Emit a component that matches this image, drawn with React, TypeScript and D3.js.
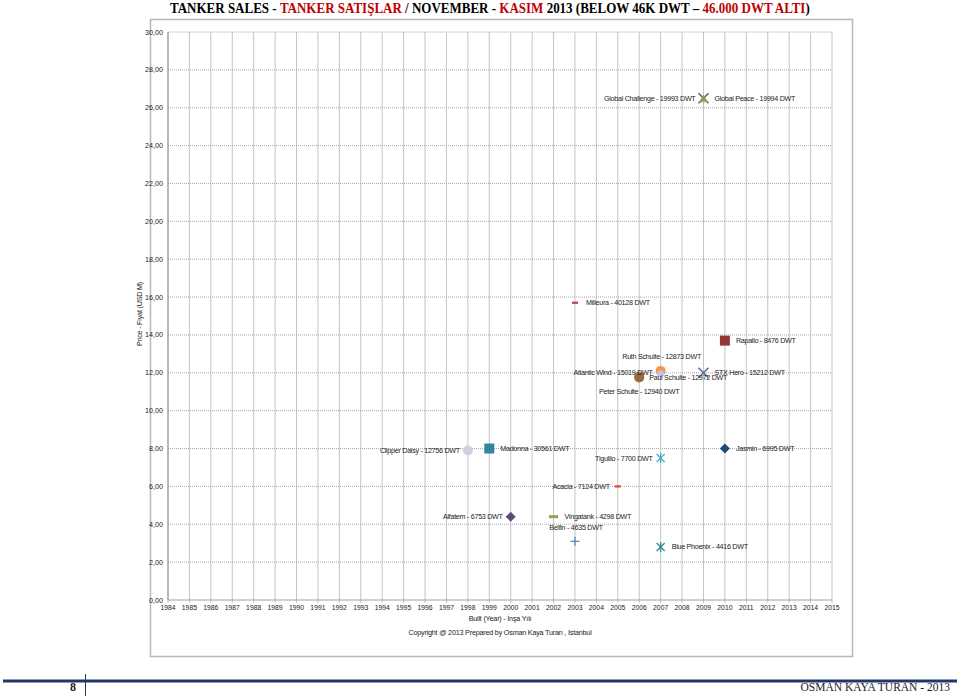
import React, { useLayoutEffect, useRef, useState } from "react";
import * as d3 from "d3";

const years = d3.range(1984, 2016);
const yTicks = [0, 2, 4, 6, 8, 10, 12, 14, 16, 18, 20, 22, 24, 26, 28, 30];

const shipNames = [
  "Global Challenge", "Global Peace", "Milleura", "Rapallo", "Ruth Schulte",
  "Atlantic Wind", "Paul Schulte", "Peter Schulte", "STX Hero", "Clipper Daisy",
  "Madonna", "Tigullio", "Jasmin", "Acacia", "Alfatem", "Vingatank", "Belfin", "Blue Phoenix",
];
const shipDwt = [
  19993, 19994, 40128, 8476, 12873, 15019, 12972, 12940, 15212, 12756,
  30561, 7700, 6995, 7124, 6753, 4298, 4635, 4416,
];
const builtYear = [
  2009, 2009, 2003, 2010, 2007, 2007, 2006, 2006, 2009, 1998,
  1999, 2007, 2010, 2005, 2000, 2002, 2003, 2007,
];
const priceUsdM = [
  26.5, 26.5, 15.7, 13.7, 12.1, 12.0, 11.8, 11.75, 12.0, 7.9,
  8.0, 7.5, 8.0, 6.0, 4.4, 4.4, 3.1, 2.8,
];
// label placement & marker style (presentation)
const labelPlace = [
  "left", "right", "right", "right", "above", "left", "rightlow", "below", "right", "left",
  "right", "left", "right", "left", "left", "right", "above", "right",
];
const markerKind = [
  "x", "triangle", "dash", "square", "circle", "circleSmall", "circle", "circle", "x", "circle",
  "square", "star", "diamond", "dash", "diamond", "dashWide", "plus", "star",
];
const markerColor = [
  "#5e5e40", "#9a9a60", "#c0504d", "#953735", "#f79646", "#b9c6e8", "#c08a50", "#9c6a3c", "#4f6a8c", "#d0d0dc",
  "#31859c", "#4bacc6", "#1f497d", "#e0503c", "#604a7b", "#8ea34a", "#4f81bd", "#31859c",
];

const titleParts = [
  { t: "TANKER SALES - ", red: false },
  { t: "TANKER SATIŞLAR", red: true },
  { t: " / NOVEMBER - ", red: false },
  { t: "KASIM", red: true },
  { t: " 2013 (BELOW 46K DWT – ", red: false },
  { t: "46.000 DWT ALTI", red: true },
  { t: ")", red: false },
];

const L = 168, R = 832, T = 32, B = 600;

function Marker({ kind, color, x, y }: { kind: string; color: string; x: number; y: number }) {
  switch (kind) {
    case "x":
      return (
        <g stroke={color} strokeWidth={1.4}>
          <line x1={x - 5} y1={y - 5} x2={x + 5} y2={y + 5} />
          <line x1={x - 5} y1={y + 5} x2={x + 5} y2={y - 5} />
        </g>
      );
    case "triangle":
      return <path d={`M${x},${y - 4}L${x + 4.5},${y + 4}L${x - 4.5},${y + 4}Z`} fill={color} opacity={0.85} />;
    case "dash":
      return <rect x={x - 3} y={y - 1.2} width={6} height={2.4} fill={color} />;
    case "dashWide":
      return <rect x={x - 4.5} y={y - 1.5} width={9} height={3} fill={color} />;
    case "square":
      return <rect x={x - 5} y={y - 5} width={10} height={10} fill={color} />;
    case "circle":
      return <circle cx={x} cy={y} r={5} fill={color} />;
    case "circleSmall":
      return <circle cx={x} cy={y + 1} r={3.5} fill={color} />;
    case "diamond":
      return <path d={`M${x},${y - 5}L${x + 5},${y}L${x},${y + 5}L${x - 5},${y}Z`} fill={color} />;
    case "plus":
      return (
        <g stroke={color} strokeWidth={1.2}>
          <line x1={x - 4.5} y1={y} x2={x + 4.5} y2={y} />
          <line x1={x} y1={y - 4.5} x2={x} y2={y + 4.5} />
        </g>
      );
    case "star":
      return (
        <g stroke={color} strokeWidth={1.3}>
          <line x1={x - 4} y1={y - 4} x2={x + 4} y2={y + 4} />
          <line x1={x - 4} y1={y + 4} x2={x + 4} y2={y - 4} />
          <line x1={x} y1={y - 5} x2={x} y2={y + 5} />
        </g>
      );
    default:
      return null;
  }
}

export default function App() {
  const x = d3.scaleLinear().domain([1984, 2015]).range([L, R]);
  const y = d3.scaleLinear().domain([0, 30]).range([B, T]);
  const sans = "Liberation Sans, Arial, sans-serif";
  const lblStyle = { fontFamily: sans, fontSize: 7.2, letterSpacing: -0.3, fill: "#222" } as const;

  const titleRef = useRef<SVGTextElement>(null);
  const [titleScale, setTitleScale] = useState(1);
  useLayoutEffect(() => {
    if (titleRef.current) {
      const w = titleRef.current.getComputedTextLength();
      if (w > 0) setTitleScale(640 / w);
    }
  }, []);

  const order = d3.range(shipNames.length);

  return (
    <svg
      width={960}
      height={696}
      style={{ position: "absolute", left: 0, top: 0, background: "#fff" }}
    >
      {/* title */}
      <g transform={`translate(170,13) scale(${titleScale},1)`}>
        <text
          ref={titleRef}
          x={0}
          y={0}
          style={{ fontFamily: "Liberation Serif, DejaVu Serif, serif", fontWeight: "bold", fontSize: 15.5 }}
        >
          {titleParts.map((p, i) => (
            <tspan key={i} fill={p.red ? "#c00000" : "#000"}>{p.t}</tspan>
          ))}
        </text>
      </g>

      {/* outer chart frame */}
      <rect x={150.5} y={19.5} width={702} height={637} fill="none" stroke="#b8b8b8" strokeWidth={1.5} />

      {/* vertical grid */}
      {years.map((yr) => (
        <line key={yr} x1={x(yr)} x2={x(yr)} y1={T} y2={B + 3} stroke="#c4c4c4" strokeWidth={1} />
      ))}
      {/* horizontal grid */}
      {yTicks.map((t) => (
        <line
          key={t}
          x1={L}
          x2={R}
          y1={y(t)}
          y2={y(t)}
          stroke={t === 0 ? "#a0a0a0" : "#a8a8a8"}
          strokeDasharray={t === 0 ? undefined : "1,1"}
          strokeWidth={1}
        />
      ))}
      <line x1={L} x2={L} y1={T} y2={B} stroke="#909090" />

      {/* y tick labels */}
      {yTicks.map((t) => (
        <text key={t} x={163} y={y(t) + 2.5} textAnchor="end" style={{ fontFamily: sans, fontSize: 7.2, fill: "#222" }}>
          {d3.format(".2f")(t).replace(".", ",")}
        </text>
      ))}
      {/* x tick labels */}
      {years.map((yr) => (
        <text key={yr} x={x(yr)} y={610} textAnchor="middle" style={{ fontFamily: sans, fontSize: 6.8, fill: "#222" }}>
          {yr}
        </text>
      ))}

      <text
        transform={`translate(142,${(T + B) / 2 - 2}) rotate(-90)`}
        textAnchor="middle"
        style={{ fontFamily: sans, fontSize: 7.2, letterSpacing: -0.2, fill: "#222" }}
      >
        Price - Fiyat (USD M)
      </text>
      <text x={500} y={621} textAnchor="middle" style={{ fontFamily: sans, fontSize: 7.2, letterSpacing: -0.2, fill: "#222" }}>
        Built (Year) - İnşa Yılı
      </text>
      <text x={500} y={635} textAnchor="middle" style={{ fontFamily: sans, fontSize: 7.2, letterSpacing: -0.2, fill: "#222" }}>
        Copyright @ 2013 Prepared by Osman Kaya Turan , Istanbul
      </text>

      {/* markers */}
      {order.map((i) => (
        <Marker key={i} kind={markerKind[i]} color={markerColor[i]} x={x(builtYear[i])} y={y(priceUsdM[i])} />
      ))}

      {/* labels */}
      {order.map((i) => {
        const px = x(builtYear[i]);
        const py = y(priceUsdM[i]);
        const txt = `${shipNames[i]} - ${shipDwt[i]} DWT`;
        const p = labelPlace[i];
        let tx = px, ty = py + 2.5, anchor: "start" | "middle" | "end" = "start";
        if (p === "left") { tx = px - 8; anchor = "end"; }
        else if (p === "right") { tx = px + 11; }
        else if (p === "rightlow") { tx = px + 10; ty = py + 3.5; }
        else if (p === "above") { anchor = "middle"; ty = py - 11.5; tx = px + 1; }
        else if (p === "below") { anchor = "middle"; ty = py + 16; }
        return (
          <text key={i} x={tx} y={ty} textAnchor={anchor} style={lblStyle}>
            {txt}
          </text>
        );
      })}

      {/* footer */}
      <rect x={3} y={679.5} width={954} height={3} fill="#1f3864" />
      <line x1={85.5} x2={85.5} y1={674} y2={696} stroke="#1f3864" strokeWidth={1} />
      <text x={76} y={691} textAnchor="end" style={{ fontFamily: "Liberation Serif, serif", fontWeight: "bold", fontSize: 12, fill: "#1a1a2e" }}>
        8
      </text>
      <text
        x={950}
        y={691}
        textAnchor="end"
        style={{ fontFamily: "Liberation Sans Narrow, Liberation Serif, serif", fontSize: 11.5, fill: "#1a1a2e" }}
      >
        OSMAN KAYA TURAN - 2013
      </text>
    </svg>
  );
}
